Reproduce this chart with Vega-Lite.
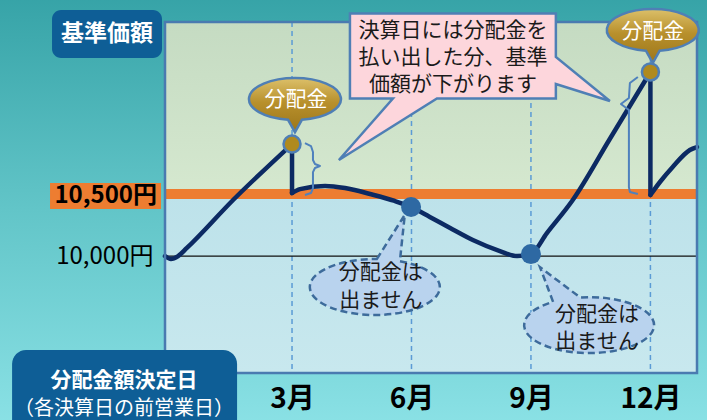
{
 "$schema": "https://vega.github.io/schema/vega-lite/v6.json",
 "width": 532, "height": 351,
 "autosize": "none",
 "padding": {"left": 165, "top": 22, "right": 10, "bottom": 47},
 "background": "#5bbec2",
 "config": {"font": "Noto Sans CJK JP", "view": {"stroke": null},
  "axis": {"grid": false, "domain": false, "ticks": false, "tickSize": 0, "labelFont": "Noto Sans CJK JP"}},
 "datasets": {
  "nav": [
   {"seg":"a","m":-0.19,"v":10000},{"seg":"a","m":-0.04,"v":9976},{"seg":"a","m":0.14,"v":10000},{"seg":"a","m":0.36,"v":10065},{"seg":"a","m":1.52,"v":10452},{"seg":"a","m":3.0,"v":10903},
   {"seg":"b","m":3.0,"v":10508},{"seg":"b","m":3.2,"v":10540},{"seg":"b","m":3.83,"v":10565},{"seg":"b","m":4.33,"v":10548},{"seg":"b","m":4.96,"v":10500},{"seg":"b","m":5.58,"v":10444},{"seg":"b","m":5.99,"v":10395},{"seg":"b","m":6.46,"v":10315},{"seg":"b","m":6.97,"v":10226},{"seg":"b","m":7.54,"v":10129},{"seg":"b","m":8.22,"v":10040},{"seg":"b","m":8.65,"v":10000},{"seg":"b","m":9.0,"v":10016},{"seg":"b","m":9.4,"v":10185},{"seg":"b","m":10.05,"v":10452},{"seg":"b","m":10.98,"v":10944},{"seg":"b","m":12.0,"v":11484},
   {"seg":"c","m":12.0,"v":10492},{"seg":"c","m":12.24,"v":10597},{"seg":"c","m":12.56,"v":10718},{"seg":"c","m":12.99,"v":10855},{"seg":"c","m":13.17,"v":10879}
  ],
  "drops": [{"m":3.0,"v":10903,"v2":10508},{"m":12.0,"v":11484,"v2":10492}],
  "gold": [{"m":3.0,"v":10903},{"m":12.0,"v":11484}],
  "nodiv": [{"m":5.99,"v":10395},{"m":9.0,"v":10016}],
  "months": [{"m":3},{"m":6},{"m":9},{"m":12}],
  "braces": [
   {"id":1,"i":1,"m":3.325,"v":10911},{"id":1,"i":2,"m":3.476,"v":10887},{"id":1,"i":3,"m":3.526,"v":10839},{"id":1,"i":4,"m":3.526,"v":10774},{"id":1,"i":5,"m":3.576,"v":10742},{"id":1,"i":6,"m":3.702,"v":10726},{"id":1,"i":7,"m":3.576,"v":10710},{"id":1,"i":8,"m":3.526,"v":10677},{"id":1,"i":9,"m":3.526,"v":10548},{"id":1,"i":10,"m":3.476,"v":10508},{"id":1,"i":11,"m":3.325,"v":10492},
   {"id":2,"i":1,"m":11.685,"v":11444},{"id":2,"i":2,"m":11.485,"v":11395},{"id":2,"i":3,"m":11.46,"v":11274},{"id":2,"i":4,"m":11.26,"v":11226},{"id":2,"i":5,"m":11.46,"v":11177},{"id":2,"i":6,"m":11.46,"v":10556},{"id":2,"i":7,"m":11.485,"v":10516},{"id":2,"i":8,"m":11.685,"v":10500}
  ]
 },
 "layer": [
  {"data": {"values": [{"m":-4.4,"m2":13.5,"v":12100,"v2":8650}]},
   "mark": {"type":"rect","fill":{"gradient":"linear","x1":0,"y1":0,"x2":0,"y2":1,"stops":[{"offset":0,"color":"#36a3a7"},{"offset":0.5,"color":"#62c5c8"},{"offset":1,"color":"#8ae1e5"}]}},
   "encoding": {
    "x": {"field":"m","type":"quantitative","scale":{"domain":[-0.19,13.17],"nice":false,"zero":false},"title":null,
      "axis":{"values":[3,6,9,12],"labelExpr":"datum.value + '月'","labelFontSize":28,"labelFontWeight":"bold","labelColor":"#000","labelPadding":12,"zindex":1,"title":null}},
    "x2": {"field":"m2"},
    "y": {"field":"v","type":"quantitative","scale":{"domain":[9057,11887],"nice":false,"zero":false},"title":null,
      "axis":{"values":[10000],"labelExpr":"'10,000円'","labelFontSize":24,"labelColor":"#000","labelPadding":12,"zindex":1,"title":null}},
    "y2": {"field":"v2"}}},
  {"data": {"values": [{"m":-0.19,"m2":13.17,"v":9057,"v2":10500}]},
   "mark": {"type":"rect","fill":{"gradient":"linear","x1":0,"y1":0,"x2":0,"y2":1,"stops":[{"offset":0,"color":"#bde2ea"},{"offset":1,"color":"#c8e8ee"}]}},
   "encoding": {"x": {"field":"m","type":"quantitative","scale":{"domain":[-0.19,13.17],"nice":false,"zero":false},"title":null},"x2":{"field":"m2"},
    "y": {"field":"v","type":"quantitative","scale":{"domain":[9057,11887],"nice":false,"zero":false},"title":null},"y2":{"field":"v2"}}},
  {"data": {"values": [{"m":-0.19,"m2":13.17,"v":10500,"v2":11887}]},
   "mark": {"type":"rect","fill":{"gradient":"linear","x1":0,"y1":0,"x2":0,"y2":1,"stops":[{"offset":0,"color":"#c5dbc2"},{"offset":1,"color":"#d5e8cf"}]}},
   "encoding": {"x": {"field":"m","type":"quantitative","scale":{"domain":[-0.19,13.17],"nice":false,"zero":false},"title":null},"x2":{"field":"m2"},
    "y": {"field":"v","type":"quantitative","scale":{"domain":[9057,11887],"nice":false,"zero":false},"title":null},"y2":{"field":"v2"}}},
  {"data": {"name":"months"},
   "mark": {"type":"rule","color":"#5b9bd5","strokeWidth":1.5,"strokeDash":[5,4]},
   "encoding": {"x": {"field":"m","type":"quantitative","scale":{"domain":[-0.19,13.17],"nice":false,"zero":false},"title":null}}},
  {"data": {"values": [{"v":10500}]},
   "mark": {"type":"rule","color":"#ed7d31","strokeWidth":10},
   "encoding": {"y": {"field":"v","type":"quantitative","scale":{"domain":[9057,11887],"nice":false,"zero":false},"title":null}}},
  {"data": {"values": [{"v":10000}]},
   "mark": {"type":"rule","color":"#111111","strokeWidth":1.2},
   "encoding": {"y": {"field":"v","type":"quantitative","scale":{"domain":[9057,11887],"nice":false,"zero":false},"title":null}}},
  {"data": {"name":"nav"},
   "mark": {"type":"line","color":"#0c2a63","strokeWidth":4.5,"interpolate":"monotone","strokeCap":"round"},
   "encoding": {"x": {"field":"m","type":"quantitative","scale":{"domain":[-0.19,13.17],"nice":false,"zero":false},"title":null},
    "y": {"field":"v","type":"quantitative","scale":{"domain":[9057,11887],"nice":false,"zero":false},"title":null},
    "detail": {"field":"seg"}}},
  {"data": {"name":"drops"},
   "mark": {"type":"rule","color":"#0c2a63","strokeWidth":4.5,"strokeCap":"round"},
   "encoding": {"x": {"field":"m","type":"quantitative","scale":{"domain":[-0.19,13.17],"nice":false,"zero":false},"title":null},
    "y": {"field":"v","type":"quantitative","scale":{"domain":[9057,11887],"nice":false,"zero":false},"title":null},"y2":{"field":"v2"}}},
  {"data": {"name":"braces"},
   "mark": {"type":"line","color":"#4f81bd","strokeWidth":2,"interpolate":"linear","strokeJoin":"round"},
   "encoding": {"x": {"field":"m","type":"quantitative","scale":{"domain":[-0.19,13.17],"nice":false,"zero":false},"title":null},
    "y": {"field":"v","type":"quantitative","scale":{"domain":[9057,11887],"nice":false,"zero":false},"title":null},
    "detail": {"field":"id"},"order":{"field":"i"}}},
  {"data": {"values": [{"m":-0.19,"m2":13.17,"v":9057,"v2":11887}]},
   "mark": {"type":"rect","fillOpacity":0,"stroke":"#4a7ab0","strokeWidth":2.5},
   "encoding": {"x": {"field":"m","type":"quantitative","scale":{"domain":[-0.19,13.17],"nice":false,"zero":false},"title":null},"x2":{"field":"m2"},
    "y": {"field":"v","type":"quantitative","scale":{"domain":[9057,11887],"nice":false,"zero":false},"title":null},"y2":{"field":"v2"}}},
  {"data": {"name":"nodiv"},
   "mark": {"type":"point","shape":"circle","filled":true,"opacity":1,"fill":"#2e69a3","size":400},
   "encoding": {"x": {"field":"m","type":"quantitative","scale":{"domain":[-0.19,13.17],"nice":false,"zero":false},"title":null},
    "y": {"field":"v","type":"quantitative","scale":{"domain":[9057,11887],"nice":false,"zero":false},"title":null}}},
  {"data": {"name":"gold"},
   "mark": {"type":"point","shape":"circle","filled":true,"opacity":1,"fill":"#b08a1e","stroke":"#4f7fb5","strokeWidth":2.5,"size":289},
   "encoding": {"x": {"field":"m","type":"quantitative","scale":{"domain":[-0.19,13.17],"nice":false,"zero":false},"title":null},
    "y": {"field":"v","type":"quantitative","scale":{"domain":[9057,11887],"nice":false,"zero":false},"title":null}}},
  {"data": {"values": [{"m":5.08,"v":9750}]},
   "mark": {"type":"point","filled":true,"opacity":1,"fill":"#b9d3ee","stroke":"#3d6b9b","strokeWidth":2.5,"strokeDash":[7,4],"size":16900,
    "shape":"M 0.03 -0.43 L 0.46 -1.11 L 0.385 -0.397 A 1 0.43 0 1 1 0.03 -0.43 Z"},
   "encoding": {"x": {"field":"m","type":"quantitative","scale":{"domain":[-0.19,13.17],"nice":false,"zero":false},"title":null},
    "y": {"field":"v","type":"quantitative","scale":{"domain":[9057,11887],"nice":false,"zero":false},"title":null}}},
  {"data": {"values": [{"m":10.46,"v":9443}]},
   "mark": {"type":"point","filled":true,"opacity":1,"fill":"#b9d3ee","stroke":"#3d6b9b","strokeWidth":2.5,"strokeDash":[7,4],"size":16900,
    "shape":"M -0.554 -0.358 L -0.754 -0.89 L -0.138 -0.426 A 1 0.43 0 1 1 -0.554 -0.358 Z"},
   "encoding": {"x": {"field":"m","type":"quantitative","scale":{"domain":[-0.19,13.17],"nice":false,"zero":false},"title":null},
    "y": {"field":"v","type":"quantitative","scale":{"domain":[9057,11887],"nice":false,"zero":false},"title":null}}},
  {"data": {"values": [
     {"m":5.23,"v":9863,"t":"分配金は"},{"m":5.23,"v":9637,"t":"出ません"},
     {"m":10.66,"v":9524,"t":"分配金は"},{"m":10.66,"v":9306,"t":"出ません"}]},
   "mark": {"type":"text","fontSize":21,"color":"#1a1a1a","align":"center","baseline":"middle"},
   "encoding": {"x": {"field":"m","type":"quantitative","scale":{"domain":[-0.19,13.17],"nice":false,"zero":false},"title":null},
    "y": {"field":"v","type":"quantitative","scale":{"domain":[9057,11887],"nice":false,"zero":false},"title":null},"text":{"field":"t"}}},
  {"data": {"values": [{"m":3.074,"v":11266},{"m":12.06,"v":11823}]},
   "mark": {"type":"point","filled":true,"opacity":1,"stroke":"#4f7fb5","strokeWidth":2.5,"size":8464,
    "fill":{"gradient":"linear","x1":0,"y1":0,"x2":0,"y2":1,"stops":[{"offset":0,"color":"#dcc06a"},{"offset":0.45,"color":"#b8902c"},{"offset":1,"color":"#9c761a"}]},
    "shape":"M 0.15 0.451 L 0 0.72 L -0.15 0.451 A 1 0.456 0 1 1 0.15 0.451 Z"},
   "encoding": {"x": {"field":"m","type":"quantitative","scale":{"domain":[-0.19,13.17],"nice":false,"zero":false},"title":null},
    "y": {"field":"v","type":"quantitative","scale":{"domain":[9057,11887],"nice":false,"zero":false},"title":null}}},
  {"data": {"values": [{"m":3.1,"v":11258,"t":"分配金"},{"m":12.06,"v":11807,"t":"分配金"}]},
   "mark": {"type":"text","fontSize":21,"color":"#ffffff","align":"center","baseline":"middle"},
   "encoding": {"x": {"field":"m","type":"quantitative","scale":{"domain":[-0.19,13.17],"nice":false,"zero":false},"title":null},
    "y": {"field":"v","type":"quantitative","scale":{"domain":[9057,11887],"nice":false,"zero":false},"title":null},"text":{"field":"t"}}},
  {"data": {"values": [{"m":7.04,"v":11613}]},
   "mark": {"type":"point","filled":true,"opacity":1,"fill":"#fdd6dc","stroke":"#4f7fb5","strokeWidth":2.5,"size":57600,
    "shape":"M -0.858 -0.354 L 0.858 -0.354 L 0.858 0.008 L 1.308 0.375 L 0.858 0.233 L 0.858 0.354 L -0.133 0.354 L -0.95 0.867 L -0.5 0.354 L -0.858 0.354 Z"},
   "encoding": {"x": {"field":"m","type":"quantitative","scale":{"domain":[-0.19,13.17],"nice":false,"zero":false},"title":null},
    "y": {"field":"v","type":"quantitative","scale":{"domain":[9057,11887],"nice":false,"zero":false},"title":null}}},
  {"data": {"values": [
     {"m":7.04,"v":11815,"t":"決算日には分配金を"},{"m":7.04,"v":11597,"t":"払い出した分、基準"},{"m":7.04,"v":11379,"t":"価額が下がります"}]},
   "mark": {"type":"text","fontSize":21,"color":"#1a1a1a","align":"center","baseline":"middle"},
   "encoding": {"x": {"field":"m","type":"quantitative","scale":{"domain":[-0.19,13.17],"nice":false,"zero":false},"title":null},
    "y": {"field":"v","type":"quantitative","scale":{"domain":[9057,11887],"nice":false,"zero":false},"title":null},"text":{"field":"t"}}},
  {"data": {"values": [{"m":-3.027,"m2":-0.265,"v":11984,"v2":11597}]},
   "mark": {"type":"rect","fill":"#0e5e96","cornerRadius":9},
   "encoding": {"x": {"field":"m","type":"quantitative","scale":{"domain":[-0.19,13.17],"nice":false,"zero":false},"title":null},"x2":{"field":"m2"},
    "y": {"field":"v","type":"quantitative","scale":{"domain":[9057,11887],"nice":false,"zero":false},"title":null},"y2":{"field":"v2"}}},
  {"data": {"values": [{"m":-1.646,"v":11790,"t":"基準価額"}]},
   "mark": {"type":"text","fontSize":23,"fontWeight":"bold","color":"#ffffff","align":"center","baseline":"middle"},
   "encoding": {"x": {"field":"m","type":"quantitative","scale":{"domain":[-0.19,13.17],"nice":false,"zero":false},"title":null},
    "y": {"field":"v","type":"quantitative","scale":{"domain":[9057,11887],"nice":false,"zero":false},"title":null},"text":{"field":"t"}}},
  {"data": {"values": [{"m":-3.077,"m2":-0.29,"v":10589,"v2":10379}]},
   "mark": {"type":"rect","fill":"#ed7d31"},
   "encoding": {"x": {"field":"m","type":"quantitative","scale":{"domain":[-0.19,13.17],"nice":false,"zero":false},"title":null},"x2":{"field":"m2"},
    "y": {"field":"v","type":"quantitative","scale":{"domain":[9057,11887],"nice":false,"zero":false},"title":null},"y2":{"field":"v2"}}},
  {"data": {"values": [{"m":-0.391,"v":10484,"t":"10,500円"}]},
   "mark": {"type":"text","fontSize":24,"fontWeight":"bold","color":"#000000","align":"right","baseline":"middle"},
   "encoding": {"x": {"field":"m","type":"quantitative","scale":{"domain":[-0.19,13.17],"nice":false,"zero":false},"title":null},
    "y": {"field":"v","type":"quantitative","scale":{"domain":[9057,11887],"nice":false,"zero":false},"title":null},"text":{"field":"t"}}},
  {"data": {"values": [{"m":-4.03,"m2":1.62,"v":9242,"v2":8516}]},
   "mark": {"type":"rect","fill":"#0e5e96","cornerRadius":14},
   "encoding": {"x": {"field":"m","type":"quantitative","scale":{"domain":[-0.19,13.17],"nice":false,"zero":false},"title":null},"x2":{"field":"m2"},
    "y": {"field":"v","type":"quantitative","scale":{"domain":[9057,11887],"nice":false,"zero":false},"title":null},"y2":{"field":"v2"}}},
  {"data": {"values": [{"m":-1.22,"v":8990,"t":"分配金額決定日"}]},
   "mark": {"type":"text","color":"#ffffff","align":"center","baseline":"middle","fontSize":21,"fontWeight":"bold"},
   "encoding": {"x": {"field":"m","type":"quantitative","scale":{"domain":[-0.19,13.17],"nice":false,"zero":false},"title":null},
    "y": {"field":"v","type":"quantitative","scale":{"domain":[9057,11887],"nice":false,"zero":false},"title":null},"text":{"field":"t"}}},
  {"data": {"values": [{"m":-1.22,"v":8768,"t":"（各決算日の前営業日）"}]},
   "mark": {"type":"text","color":"#ffffff","align":"center","baseline":"middle","fontSize":20},
   "encoding": {"x": {"field":"m","type":"quantitative","scale":{"domain":[-0.19,13.17],"nice":false,"zero":false},"title":null},
    "y": {"field":"v","type":"quantitative","scale":{"domain":[9057,11887],"nice":false,"zero":false},"title":null},"text":{"field":"t"}}}
 ]
}
